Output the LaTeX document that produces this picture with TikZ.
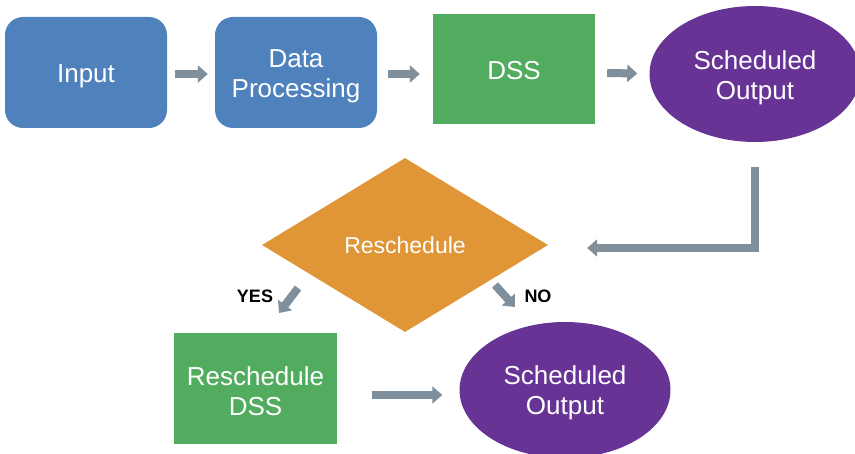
\documentclass[tikz,border=0pt]{standalone}
\usepackage{fontspec}
\setmainfont{Liberation Sans}
\usetikzlibrary{shapes.geometric,arrows.meta,calc}

\definecolor{boxblue}{RGB}{79,129,189}
\definecolor{boxgreen}{RGB}{82,172,96}
\definecolor{decorange}{RGB}{224,150,55}
\definecolor{outpurple}{RGB}{103,52,150}
\definecolor{arrowgray}{RGB}{127,143,155}

\tikzset{
  blockbase/.style={inner sep=0pt},
  lbl/.style={inner sep=0pt, text=white, align=center,
    font=\fontsize{26}{30}\selectfont},
  roundbox/.style={blockbase, draw=none, fill=boxblue, rounded corners=18pt,
    minimum width=162pt, minimum height=111pt},
  greenbox/.style={blockbase, fill=boxgreen,
    minimum width=162pt, minimum height=110pt},
  outoval/.style={blockbase, ellipse, fill=outpurple,
    minimum width=211pt, minimum height=136pt},
  decision/.style={blockbase, diamond, fill=decorange, text=white,
    minimum width=286pt, minimum height=174pt,
    font=\fontsize{23}{27}\selectfont},
  answer/.style={inner sep=0pt, font=\fontsize{18}{20}\selectfont\bfseries},
  blockarrow/.style={draw=arrowgray, line width=8pt, line cap=butt,
    -{Triangle[width=17pt,length=10pt]}}
}

\begin{document}
\begin{tikzpicture}[x=1pt,y=-1pt]
  \useasboundingbox (0,0) rectangle (855,454);

  % top row
  \node[roundbox, label={[lbl, yshift=-3.5pt]center:Input}] (in) at (86,72.5) {};
  \node[roundbox, label={[lbl, yshift=-3.5pt]center:{Data\\Processing}}] (dp) at (296,72.5) {};
  \node[greenbox, label={[lbl, yshift=-1.5pt]center:DSS}] (dss) at (514,69.5) {};
  \node[outoval, label={[lbl, yshift=-3.5pt]center:{Scheduled\\Output}}] (so1) at (755,74) {};

  % decision and outcomes
  \node[decision] (dia) at (405,245) {Reschedule};
  \node[greenbox, minimum width=163pt, minimum height=111pt,
        label={[lbl, yshift=-2.5pt]center:{Reschedule\\DSS}}] (rdss) at (255.5,388.5) {};
  \node[outoval, label={[lbl, yshift=-3pt]center:{Scheduled\\Output}}] (so2) at (565,390) {};

  \node[answer] (yes) at (255,296) {YES};
  \node[answer] (no) at (538,296) {NO};

  % top row connectors
  \draw[blockarrow] ($(in.east)+(8,1.5)$) -- ($(dp.west)+(-7,1.5)$);
  \draw[blockarrow] ($(dp.east)+(11,1.5)$) -- ($(dss.west)+(-13,4.5)$);
  \draw[blockarrow] ($(dss.east)+(12,3.5)$) -- ($(so1.west)+(-12,-0.5)$);

  % feedback from the output back to the decision
  \coordinate (fbin) at ($(dia.east)+(0,3)$);
  \draw[blockarrow, shorten <=25pt, shorten >=39pt] (so1.south) |- (fbin);

  % yes / no branches
  \coordinate (yesfrom) at (298,288);
  \coordinate (yesto) at (279,313);
  \coordinate (nofrom) at (495,285);
  \coordinate (noto) at (515,307);
  \draw[blockarrow] (yesfrom) -- (yesto);
  \draw[blockarrow] (nofrom) -- (noto);

  % rescheduled result to output
  \draw[blockarrow] ($(rdss.east)+(35,6.5)$) -- ($(so2.west)+(-17,5)$);
\end{tikzpicture}
\end{document}
